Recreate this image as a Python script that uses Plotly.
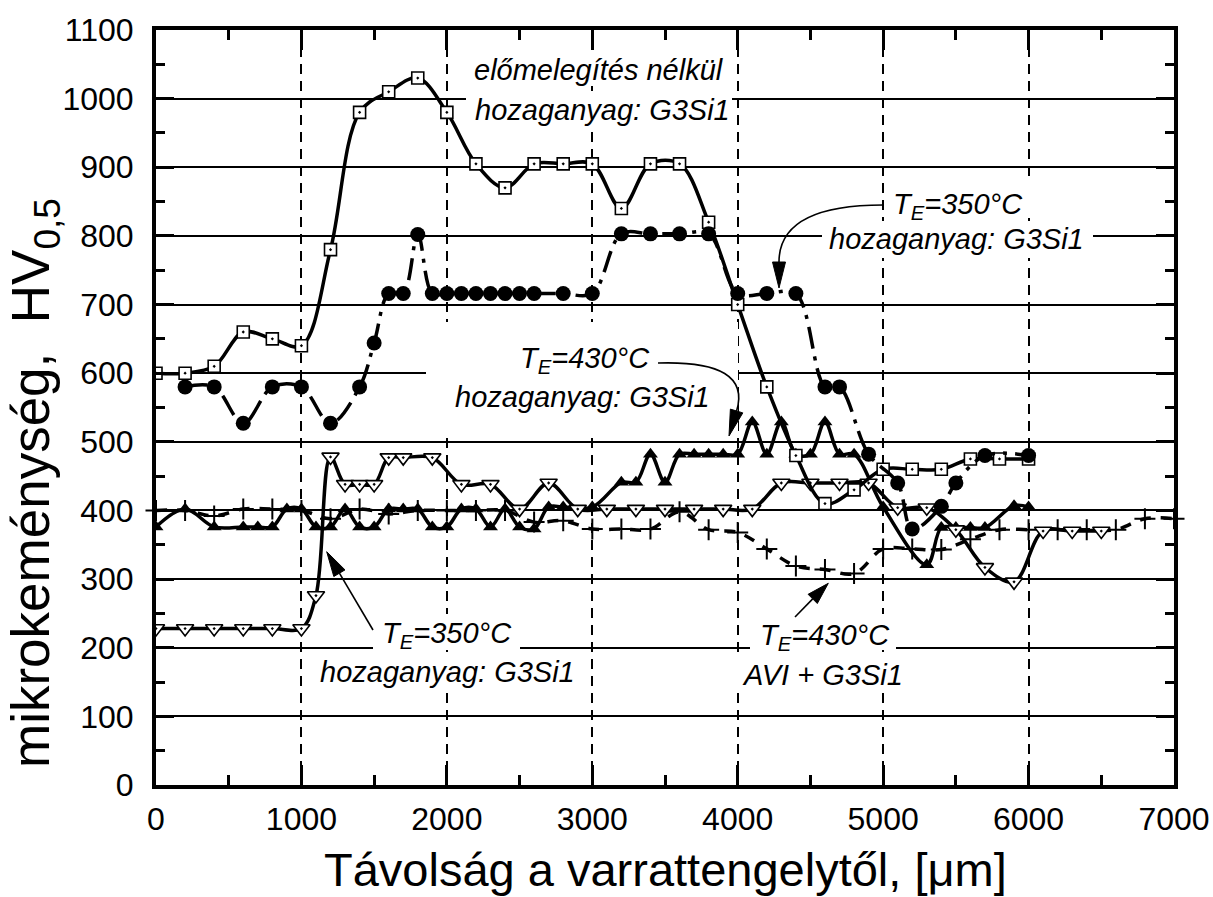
import plotly.graph_objects as go

# ---------------- data ----------------
# előmelegítés nélkül, hozaganyag: G3Si1  (open squares)
sq_x = [0, 200, 400, 600, 800, 1000, 1200, 1400, 1600, 1800, 2000, 2200, 2400, 2600, 2800,
        3000, 3200, 3400, 3600, 3800, 4000, 4200, 4400, 4600, 4800, 5000, 5200, 5400, 5600,
        5800, 6000]
sq_y = [600, 600, 610, 660, 650, 640, 780, 980, 1010, 1030, 980, 905, 870, 905, 905,
        905, 840, 905, 905, 820, 700, 580, 480, 410, 430, 460, 460, 460, 475,
        475, 475]

# T_E=350°C, hozaganyag: G3Si1 (filled circles, dash-dot)
ci_x = [200, 400, 600, 800, 1000, 1200, 1400, 1500, 1600, 1700, 1800, 1900, 2000, 2100,
        2200, 2300, 2400, 2500, 2600, 2800, 3000, 3200, 3400, 3600, 3800, 4000, 4200,
        4400, 4600, 4700, 4900, 5100, 5200, 5400, 5500, 5700, 6000]
ci_y = [580, 580, 527, 580, 580, 527, 580, 644, 716, 716, 802, 716, 716, 716,
        716, 716, 716, 716, 716, 716, 716, 803, 803, 803, 803, 716, 716,
        716, 580, 580, 482, 440, 373, 406, 440, 480, 480]

# T_E=430°C, hozaganyag: G3Si1 (filled triangles)
tu_x = [0, 200, 400, 600, 700, 800, 900, 1000, 1100, 1200, 1300, 1400, 1500, 1600, 1700,
        1800, 1900, 2000, 2100, 2200, 2300, 2400, 2500, 2600, 2700, 2800, 3000, 3200, 3300,
        3400, 3500, 3600, 3700, 3800, 3900, 4000, 4100, 4200, 4300, 4400, 4500, 4600, 4700,
        4800, 5000, 5300, 5400, 5500, 5600, 5700, 5900, 6000]
tu_y = [376, 402, 376, 376, 376, 376, 402, 402, 376, 376, 402, 376, 376, 402, 402,
        402, 376, 376, 402, 402, 376, 402, 376, 373, 405, 405, 405, 441, 441,
        482, 441, 482, 482, 482, 482, 482, 529, 482, 529, 482, 482, 529, 482,
        482, 405, 321, 375, 375, 375, 375, 407, 405]

# T_E=350°C, hozaganyag: G3Si1 (open inverted triangles)
td_x = [0, 200, 400, 600, 800, 1000, 1100, 1200, 1300, 1400, 1500, 1600, 1700, 1900, 2100,
        2300, 2500, 2700, 2900, 3100, 3300, 3500, 3700, 3900, 4100, 4300, 4500, 4700, 4900,
        5100, 5300, 5500, 5700, 5900, 6100, 6300, 6500]
td_y = [228, 228, 228, 228, 228, 228, 276, 478, 438, 438, 438, 477, 477, 477, 438,
        438, 402, 440, 402, 402, 402, 402, 402, 402, 402, 440, 440, 440, 440,
        404, 404, 372, 317, 296, 370, 370, 370]

# T_E=430°C, AVI + G3Si1 (plus signs, dashed)
pl_x = [0, 200, 400, 600, 800, 1000, 1200, 1400, 1600, 1800, 2000, 2200, 2400, 2600, 2800,
        3000, 3200, 3400, 3600, 3800, 4000, 4200, 4400, 4600, 4800, 5000, 5200, 5400, 5600,
        5800, 6000, 6200, 6400, 6600, 6800, 7000]
pl_y = [400, 400, 392, 402, 402, 400, 388, 402, 395, 400, 400, 400, 400, 383, 385,
        373, 373, 373, 398, 372, 368, 344, 319, 314, 308, 344, 344, 343, 358,
        372, 372, 372, 372, 372, 388, 388]

x_ticks = [0, 1000, 2000, 3000, 4000, 5000, 6000, 7000]
y_ticks = [0, 100, 200, 300, 400, 500, 600, 700, 800, 900, 1000, 1100]
x_title = "Távolság a varrattengelytől, [μm]"
y_title = "mikrokeménység,&nbsp; HV<sub>0,5</sub>"

# ---------------- layout geometry ----------------
W, H = 1213, 897
ML, MR, MT, MB = 156, 39, 30, 112
XR = (0, 7000)
YR = (0, 1100)
PW = W - ML - MR
PH = H - MT - MB


def dx(p):
    return XR[0] + (p - ML) / PW * (XR[1] - XR[0])


def dy(p):
    return YR[0] + (H - MB - p) / PH * (YR[1] - YR[0])


FONT = "Arial, Liberation Sans, sans-serif"
LW = 3.5

fig = go.Figure()

fig.add_trace(go.Scatter(
    x=pl_x, y=pl_y, mode="lines+markers", cliponaxis=False,
    line=dict(color="black", width=LW, shape="spline", dash="11px,10px"),
    marker=dict(symbol="cross-thin-open", size=15, color="black",
                line=dict(color="black", width=2))))
fig.add_trace(go.Scatter(
    x=tu_x, y=tu_y, mode="lines+markers",
    line=dict(color="black", width=LW, shape="spline"),
    marker=dict(symbol="triangle-up", size=13, color="black")))
fig.add_trace(go.Scatter(
    x=td_x, y=td_y, mode="lines+markers",
    line=dict(color="black", width=LW, shape="spline"),
    marker=dict(symbol="triangle-down-dot", size=15, color="white",
                line=dict(color="black", width=1.6))))
fig.add_trace(go.Scatter(
    x=sq_x, y=sq_y, mode="lines+markers",
    line=dict(color="black", width=LW, shape="spline"),
    marker=dict(symbol="square-dot", size=12, color="white",
                line=dict(color="black", width=1.6))))
fig.add_trace(go.Scatter(
    x=ci_x, y=ci_y, mode="lines+markers",
    line=dict(color="black", width=LW, shape="spline", dash="22px,8px,4px,8px"),
    marker=dict(symbol="circle", size=15, color="black")))

shapes = []

# white boxes behind labels (hide grid lines, not data)
boxes = [
    (470, 44, 728, 86), (466, 96, 732, 126),
    (885, 180, 1036, 218), (822, 221, 1093, 258),
    (426, 322, 738, 432),
    (373, 614, 520, 650), (314, 654, 582, 690),
    (750, 614, 896, 650), (733, 652, 907, 693),
]
for (x0, y0, x1, y1) in boxes:
    shapes.append(dict(type="rect", xref="x", yref="y", layer="between",
                       x0=dx(x0), x1=dx(x1), y0=dy(y1), y1=dy(y0),
                       fillcolor="white", line=dict(width=0)))


def head(tip, base, hw=6.5):
    tx, ty = tip
    bx, by = base
    vx, vy = tx - bx, ty - by
    L = (vx * vx + vy * vy) ** 0.5
    px_, py_ = -vy / L * hw, vx / L * hw
    p1 = (bx + px_, by + py_)
    p2 = (bx - px_, by - py_)
    path = (f"M {dx(tx)},{dy(ty)} L {dx(p1[0])},{dy(p1[1])} "
            f"L {dx(p2[0])},{dy(p2[1])} Z")
    return dict(type="path", xref="x", yref="y", path=path, layer="above",
                fillcolor="black", line=dict(color="black", width=1))


def curve(p0, c, p1):
    path = (f"M {dx(p0[0])},{dy(p0[1])} Q {dx(c[0])},{dy(c[1])} "
            f"{dx(p1[0])},{dy(p1[1])}")
    return dict(type="path", xref="x", yref="y", path=path, layer="above",
                line=dict(color="black", width=1.6))


def seg(p0, p1):
    return dict(type="line", xref="x", yref="y", layer="above",
                x0=dx(p0[0]), y0=dy(p0[1]), x1=dx(p1[0]), y1=dy(p1[1]),
                line=dict(color="black", width=1.6))


# upper right curved arrow
shapes.append(curve((883, 205), (779, 205), (779, 262)))
shapes.append(head((779, 288), (779, 262)))
# middle curved arrow
shapes.append(curve((658, 363), (752, 360), (736.6, 411)))
shapes.append(head((729, 436), (736.6, 411)))
# lower left straight arrow
shapes.append(seg((373, 630), (339.4, 573.2)))
shapes.append(head((326.7, 551.7), (339.4, 573.2)))
# lower right straight arrow
shapes.append(seg((795, 617), (812.7, 598.9)))
shapes.append(head((828.3, 583.3), (812.7, 598.9)))

labels = [
    ("<i>előmelegítés nélkül</i>", 599, 70),
    ("<i>hozaganyag: G3Si1</i>", 602, 110),
    ("<i>T<sub>E</sub>=350°C</i>", 958, 206),
    ("<i>hozaganyag: G3Si1</i>", 956, 239),
    ("<i>T<sub>E</sub>=430°C</i>", 585, 360),
    ("<i>hozaganyag: G3Si1</i>", 582, 397),
    ("<i>T<sub>E</sub>=350°C</i>", 447, 635),
    ("<i>hozaganyag: G3Si1</i>", 447, 672),
    ("<i>T<sub>E</sub>=430°C</i>", 825, 637),
    ("<i>AVI + G3Si1</i>", 822, 675),
]
annotations = []
for txt, xp, yp in labels:
    annotations.append(dict(text=txt, x=dx(xp), y=dy(yp), xref="x", yref="y",
                            showarrow=False, xanchor="center", yanchor="middle",
                            font=dict(family=FONT, size=29, color="black")))

annotations.append(dict(text=x_title, xref="paper", yref="paper",
                        x=0.5, y=(H - MB - 870) / PH, xanchor="center", yanchor="middle",
                        showarrow=False, font=dict(family=FONT, size=47, color="black")))
annotations.append(dict(text=y_title, xref="paper", yref="paper", textangle=-90,
                        x=(34 - ML) / PW, y=(H - MB - 483) / PH,
                        xanchor="center", yanchor="middle",
                        showarrow=False, font=dict(family=FONT, size=53, color="black")))

axis_common = dict(
    showline=True, linecolor="black", linewidth=4, mirror="ticks",
    ticks="inside", tickcolor="black", tickwidth=3, automargin=False,
    showgrid=True, gridcolor="black", zeroline=False,
    tickfont=dict(family=FONT, size=32, color="black"),
)

fig.update_layout(
    width=W, height=H,
    margin=dict(l=ML, r=MR, t=MT, b=MB, pad=0, autoexpand=False),
    paper_bgcolor="white", plot_bgcolor="white",
    showlegend=False,
    xaxis=dict(range=list(XR), tickvals=x_ticks, ticklen=20,
               minor=dict(dtick=500, ticklen=10, tickwidth=3, ticks="inside",
                          tickcolor="black", showgrid=False),
               griddash="10px,7px", gridwidth=1.5, ticklabelstandoff=3,
               **axis_common),
    yaxis=dict(range=list(YR), tickvals=y_ticks, ticklen=18,
               minor=dict(dtick=50, ticklen=9, tickwidth=3, ticks="inside",
                          tickcolor="black", showgrid=False),
               gridwidth=1.5, ticklabelstandoff=12,
               **axis_common),
    shapes=shapes,
    annotations=annotations,
)

fig.write_html(
    "out.html",
    config={"displayModeBar": False},
    post_script="document.body.style.margin='0';document.body.style.overflow='hidden';",
)
